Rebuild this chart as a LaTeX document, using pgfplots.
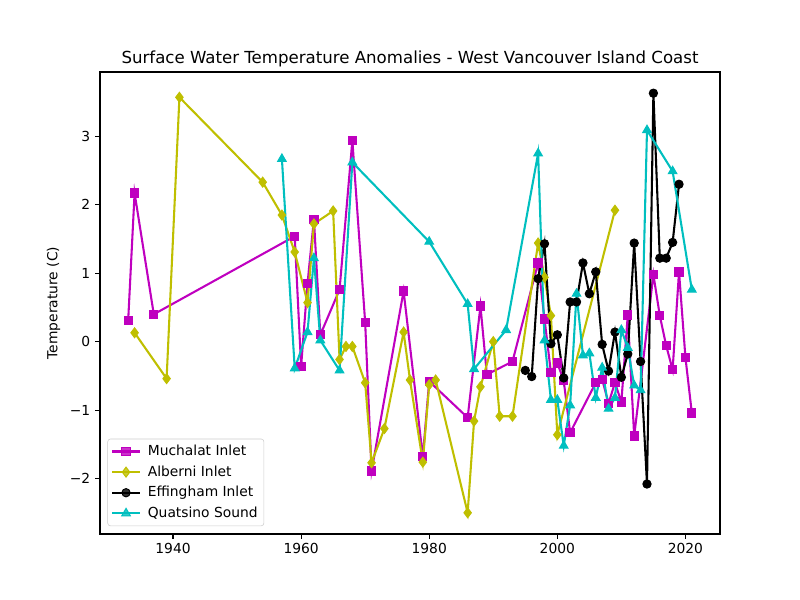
\documentclass[border=0pt]{standalone}
\usepackage{fontspec}
\setmainfont{DejaVu Sans}
\usepackage{pgfplots}
\pgfplotsset{compat=1.18}
\definecolor{mplm}{rgb}{0.75,0,0.75}
\definecolor{mply}{rgb}{0.75,0.75,0}
\definecolor{mplc}{rgb}{0,0.75,0.75}
\definecolor{legframe}{rgb}{0.8,0.8,0.8}
\begin{document}
\begin{tikzpicture}
\useasboundingbox (0,0) rectangle (578.16pt,433.62pt);
\begin{axis}[
  at={(72.27pt,47.70pt)}, anchor=south west,
  width=448.07pt, height=333.89pt, scale only axis,
  xmin=1928.6, xmax=2025.4, ymin=-2.81, ymax=3.94,
  axis line style={line width=0.8pt},
  tick align=outside, tick pos=left,
  major tick length=3.5pt,
  every tick/.style={line width=0.8pt, black},
  xtick={1940,1960,1980,2000,2020},
  xticklabels={1940,1960,1980,2000,2020},
  ytick={-2,-1,0,1,2,3},
  yticklabels={−2,−1,0,1,2,3},
  tick label style={font=\fontsize{10}{12}\selectfont},
  title={Surface Water Temperature Anomalies - West Vancouver Island Coast},
  title style={font=\fontsize{12}{14.4}\selectfont, yshift=-6pt},
  ylabel={Temperature (C)},
  ylabel style={font=\fontsize{10}{12}\selectfont},
  legend cell align=left,
  legend image code/.code={\draw[mark repeat=2,mark phase=2,#1] plot coordinates {(0pt,0pt)(10pt,0pt)(20pt,0pt)};},
  legend style={at={(0.012,0.017)}, anchor=south west,
    draw=legframe, rounded corners=2pt, fill=white, fill opacity=0.8, text opacity=1,
    font=\fontsize{10}{12}\selectfont, row sep=1.8pt, inner sep=2.5pt,
    /tikz/every odd column/.append style={column sep=3pt}},
  every axis plot/.append style={line width=1.5pt},
]
\addplot[color=mplm, mark=square*, mark size=3pt, mark options={solid,line width=0.7pt}] coordinates {
(1933,0.31)(1934,2.17)(1937,0.40)(1959,1.54)(1960,-0.36)(1961,0.85)(1962,1.79)(1963,0.10)
(1966,0.76)(1968,2.94)(1970,0.28)(1971,-1.89)(1976,0.74)(1979,-1.68)(1980,-0.58)(1986,-1.11)
(1988,0.52)(1989,-0.48)(1993,-0.29)(1997,1.15)(1998,0.33)(1999,-0.45)(2000,-0.31)(2001,-0.57)
(2002,-1.33)(2006,-0.60)(2007,-0.55)(2008,-0.90)(2009,-0.60)(2010,-0.88)(2011,0.39)(2012,-1.38)
(2015,0.98)(2016,0.38)(2017,-0.06)(2018,-0.41)(2019,1.02)(2020,-0.23)(2021,-1.04)};
\addlegendentry{Muchalat Inlet}
\addplot[color=mply, mark=diamond*, mark size=3.6pt, mark options={solid,line width=0.7pt}] coordinates {
(1934,0.13)(1939,-0.54)(1941,3.57)(1954,2.33)(1957,1.85)(1959,1.31)(1961,0.57)(1962,1.72)
(1965,1.91)(1966,-0.26)(1967,-0.07)(1968,-0.07)(1970,-0.60)(1971,-1.77)(1973,-1.27)(1976,0.14)
(1977,-0.56)(1979,-1.76)(1980,-0.63)(1981,-0.56)(1986,-2.50)(1987,-1.16)(1988,-0.66)(1990,0.00)
(1991,-1.09)(1993,-1.09)(1997,1.44)(1998,0.94)(1999,0.38)(2000,-1.36)(2009,1.92)};
\addlegendentry{Alberni Inlet}
\addplot[color=black, mark=*, mark size=3pt, mark options={solid,line width=0.7pt}] coordinates {
(1995,-0.42)(1996,-0.51)(1997,0.92)(1998,1.43)(1999,-0.03)(2000,0.10)(2001,-0.53)(2002,0.58)
(2003,0.58)(2004,1.15)(2005,0.70)(2006,1.02)(2007,-0.04)(2008,-0.43)(2009,0.14)(2010,-0.52)
(2011,-0.18)(2012,1.44)(2013,-0.29)(2014,-2.08)(2015,3.63)(2016,1.22)(2017,1.22)(2018,1.45)
(2019,2.30)};
\addlegendentry{Effingham Inlet}
\addplot[color=mplc, mark=triangle*, mark size=3.6pt, mark options={solid,line width=0.7pt}] coordinates {
(1957,2.67)(1959,-0.39)(1961,0.14)(1962,1.22)(1963,0.02)(1966,-0.42)(1968,2.62)(1980,1.46)
(1986,0.55)(1987,-0.40)(1992,0.17)(1997,2.75)(1998,0.02)(1999,-0.85)(2000,-0.85)(2001,-1.52)
(2002,-0.93)(2003,0.70)(2004,-0.20)(2005,-0.17)(2006,-0.82)(2007,-0.38)(2008,-0.98)(2009,-0.82)
(2010,0.17)(2011,-0.09)(2012,-0.64)(2013,-0.71)(2014,3.09)(2018,2.49)(2021,0.76)};
\addlegendentry{Quatsino Sound}
\end{axis}
\end{tikzpicture}
\end{document}
